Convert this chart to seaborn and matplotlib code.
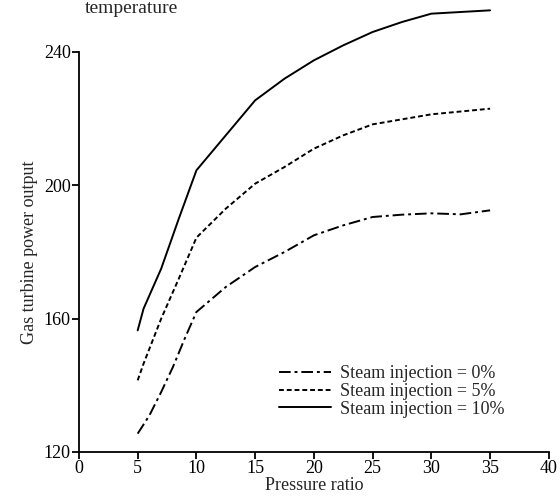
import matplotlib
matplotlib.use("Agg")
import matplotlib.pyplot as plt
import seaborn as sns
import pandas as pd

# Data
x_0 = [5, 6, 7, 8, 9, 10, 12.5, 15, 17.5, 20, 22.5, 25, 27.5, 30, 32.5, 35]
y_0 = [125.5, 131, 138, 145.5, 154, 162, 169.5, 175.5, 180, 185, 188, 190.5, 191.2, 191.6, 191.3, 192.5]

x_5 = [5, 5.5, 7, 8.5, 10, 12.5, 15, 17.5, 20, 22.5, 25, 27.5, 30, 35]
y_5 = [141.5, 146.5, 160, 172, 184.3, 193, 200.5, 205.5, 211, 215, 218.3, 219.8, 221.3, 223]

x_10 = [5, 5.5, 7, 8.5, 10, 15, 17.5, 20, 22.5, 25, 27.5, 30, 35]
y_10 = [156.5, 163, 175, 190, 204.5, 225.5, 232, 237.5, 242, 246, 249, 251.5, 252.5]

labels = ["Steam injection = 0%", "Steam injection = 5%", "Steam injection = 10%"]
x_ticks = [0, 5, 10, 15, 20, 25, 30, 35, 40]
y_ticks = [120, 160, 200, 240]

sns.set_style("ticks")
plt.rcParams["font.family"] = ["Liberation Serif", "DejaVu Serif"]

fig = plt.figure(figsize=(5.6, 5.0), dpi=100)
ax = fig.add_axes([0.141, 0.096, 0.839, 0.80])

styles = [(0, (6, 2, 1.5, 2)), (0, (2.5, 1.5)), "-"]
series = [(x_0, y_0), (x_5, y_5), (x_10, y_10)]
for (xs, ys), lab, ls in zip(series, labels, styles):
    df = pd.DataFrame({"x": xs, "y": ys})
    sns.lineplot(data=df, x="x", y="y", ax=ax, color="black", linestyle=ls,
                 linewidth=1.4, label=lab, clip_on=False)

ax.set_xlim(0, 40)
ax.set_ylim(120, 240)
ax.set_xticks(x_ticks)
ax.set_yticks(y_ticks)
ax.tick_params(axis="both", direction="out", length=5, width=1.3, labelsize=13,
               colors="black", pad=1)
for s in ["top", "right"]:
    ax.spines[s].set_visible(False)
for s in ["left", "bottom"]:
    ax.spines[s].set_linewidth(1.3)
    ax.spines[s].set_color("black")

ax.set_xlabel("Pressure ratio", fontsize=13, labelpad=0)
ax.set_ylabel("Gas turbine power output", fontsize=13, labelpad=4)

leg = ax.legend(loc="lower right", bbox_to_anchor=(0.925, 0.063), frameon=False,
                fontsize=13, handlelength=2.9, handletextpad=0.5, labelspacing=0.05,
                borderpad=0)

fig.text(0.235, 1.0, "temperature", ha="center", va="top", fontsize=14)

fig.savefig("out.png", dpi=100)
